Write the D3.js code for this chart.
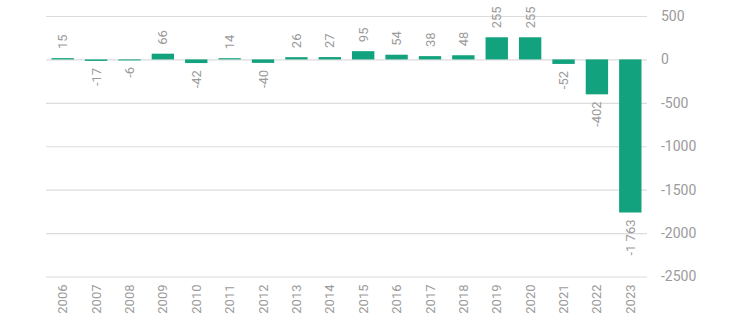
<!DOCTYPE html>
<html>
<head>
<meta charset="utf-8">
<script src="https://cdn.jsdelivr.net/npm/d3@7"></script>
<style>
  html, body { margin: 0; padding: 0; background: #fff; }
  svg text { font-family: Roboto, "Noto Sans", sans-serif; fill: #9b9b9b; }
</style>
</head>
<body>
<svg id="chart" width="730" height="322"></svg>
<script>
// Annual values by year
const years = ["2006","2007","2008","2009","2010","2011","2012","2013","2014","2015",
               "2016","2017","2018","2019","2020","2021","2022","2023"];
const values = [15, -17, -6, 66, -42, 14, -40, 26, 27, 95, 54, 38, 48, 255, 255, -52, -402, -1763];
const valueLabels = ["15","-17","-6","66","-42","14","-40","26","27","95","54","38","48","255","255","-52","-402","-1 763"];
const yTicks = [500, 0, -500, -1000, -1500, -2000, -2500];

const svg = d3.select("#chart");
const plot = { left: 46, right: 647, top: 16, bottom: 276.5 };

const x = d3.scaleBand().domain(years).range([plot.left, plot.right]).paddingInner(0.33).paddingOuter(0.165);
const y = d3.scaleLinear().domain([-2500, 500]).range([plot.bottom, plot.top]);

// Gridlines and right-side axis labels
const yAxis = d3.axisRight(y).tickValues(yTicks).tickSize(-(plot.right - plot.left)).tickPadding(14)
  .tickFormat(d => d);
const gy = svg.append("g").attr("transform", `translate(${plot.right},0)`).call(yAxis);
gy.select(".domain").remove();
gy.selectAll(".tick line").attr("stroke", "#dcdcdc").attr("stroke-width", 1.2);
gy.selectAll(".tick text").attr("font-size", 14).attr("x", 14).attr("fill", "#9b9b9b");

// Bars
svg.append("g").selectAll("rect").data(values).join("rect")
  .attr("x", (d, i) => x(years[i]))
  .attr("width", x.bandwidth())
  .attr("y", d => y(Math.max(0, d)))
  .attr("height", d => Math.max(1, Math.abs(y(d) - y(0))))
  .attr("fill", "#12a37e");

// Value labels, rotated
svg.append("g").selectAll("text").data(values).join("text")
  .attr("font-size", 13)
  .attr("dy", "0.35em")
  .attr("text-anchor", d => d >= 0 ? "start" : "end")
  .attr("transform", (d, i) => {
    const cx = x(years[i]) + x.bandwidth() / 2;
    const cy = d >= 0 ? y(d) - 9 : y(d) + 7;
    return `translate(${cx},${cy}) rotate(-90)`;
  })
  .text((d, i) => valueLabels[i]);

// Year labels along the bottom
svg.append("g").selectAll("text").data(years).join("text")
  .attr("font-size", 13)
  .attr("dy", "0.35em")
  .attr("text-anchor", "end")
  .attr("transform", d => `translate(${x(d) + x.bandwidth() / 2},${plot.bottom + 8}) rotate(-90)`)
  .text(d => d);
</script>
</body>
</html>
